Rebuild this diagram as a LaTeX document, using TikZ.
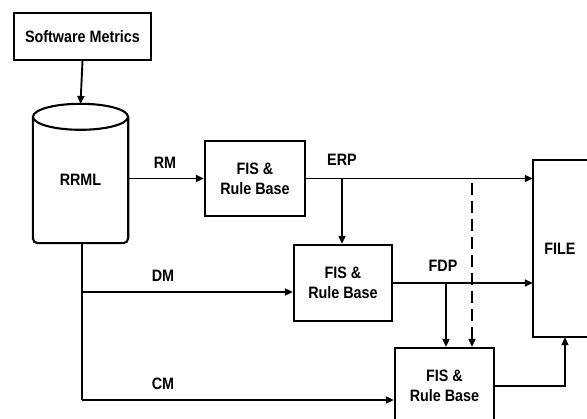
\documentclass[tikz,border=0pt]{standalone}
\usepackage{fontspec}
\setmainfont{Liberation Sans}[FakeStretch=0.87]
\usetikzlibrary{arrows.meta,calc}
\tikzset{
  box/.style={draw, line width=2.3pt, minimum width=#1, inner sep=0pt, align=center},
  lbl/.style={inner sep=0pt},
  link/.style={line width=1.9pt},
  arr/.style={link, -{Triangle[length=8pt,width=7pt]}},
}
\begin{document}
\begin{tikzpicture}[x=1pt, y=-1pt, font=\fontsize{16.5}{20}\selectfont\bfseries, line join=miter]
\useasboundingbox (0,0) rectangle (587,419);
\clip (0,0) rectangle (587,419);

% source box and repository
\node[box=137pt, minimum height=47pt] (sm) at (82.5,36.5) {Software Metrics};
\node[minimum width=95pt, minimum height=126pt, inner sep=0pt] (rrml) at (80.5,180) {RRML};
\coordinate (rrmltop) at (80.5,104);
\draw[line width=2.1pt, rounded corners=5pt]
  (rrml.north west) -- (rrml.south west) -- (rrml.south east) -- (rrml.north east);
\draw[line width=2.1pt, fill=white] (rrml.north) ellipse [x radius=47.5pt, y radius=13pt];

% inference stages
\node[box=100pt, minimum height=75pt] (fis1) at (255,178.5) {FIS \&\\Rule Base};
\node[box=98pt, minimum height=76pt] (fis2) at (343,283) {FIS \&\\Rule Base};
\node[box=99pt, minimum height=76pt] (fis3) at (444.5,386) {FIS \&\\Rule Base};

% output file (open on the right)
\node[minimum width=54pt, minimum height=177pt, inner sep=0pt] (file) at (560,248.5) {FILE};
\draw[line width=1.9pt] (file.north east) -- (file.north west) -- (file.south west) -- (file.south east);

% connectors
\draw[arr] (sm.south) -- (rrmltop);
\draw[arr] (rrml.east |- fis1.west) -- (fis1.west);

\coordinate (dmin) at ($(fis2.west)+(0,9)$);
\coordinate (cmin) at ($(fis3.west)+(0,14)$);
\coordinate (trunk) at ($(rrml.south)+(1.5,0)$);
\draw[link] (trunk) -- (trunk |- cmin);
\draw[arr] (trunk |- dmin) -- (dmin);
\draw[arr] (trunk |- cmin) -- (cmin);

\draw[arr] (fis1.east) -- (fis1.east -| file.west);
\coordinate (erpsplit) at (342,0);
\draw[arr] (erpsplit |- fis1.east) -- (erpsplit |- fis2.north);

\draw[arr] (fis2.east) -- (fis2.east -| file.west);
\coordinate (fdpsplit) at (446,0);
\draw[arr] (fdpsplit |- fis2.east) -- (fdpsplit |- fis3.north);

\coordinate (dashx) at (472,183);
\draw[link, dash pattern=on 12pt off 6pt, -{Triangle[length=8pt,width=7pt]}]
  (dashx) -- (dashx |- fis3.north);

\coordinate (fileret) at (565,0);
\draw[arr] (fis3.east) -| (fileret |- file.south);

% connector labels
\node[lbl] (rm) at (165,163) {RM};
\node[lbl] (dm) at (163,276) {DM};
\node[lbl] (cm) at (163,384) {CM};
\node[lbl] (erp) at (342,160) {ERP};
\node[lbl] (fdp) at (443,266) {FDP};
\end{tikzpicture}
\end{document}
